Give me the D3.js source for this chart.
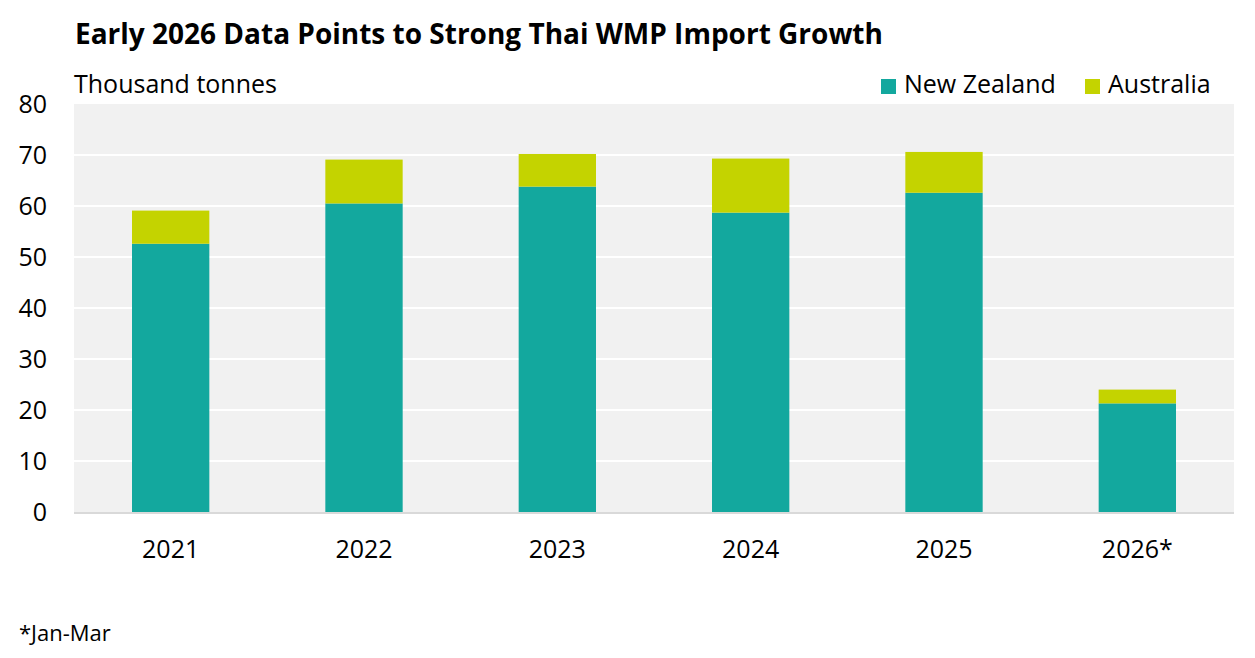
<!DOCTYPE html>
<html>
<head>
<meta charset="utf-8">
<script src="https://cdn.jsdelivr.net/npm/d3@7"></script>
<style>
  body { margin: 0; background: #fff; }
  svg { font-family: "Open Sans", sans-serif; }
</style>
</head>
<body>
<div id="chart"></div>
<script>
// Data (thousand tonnes)
const years = ["2021", "2022", "2023", "2024", "2025", "2026*"];
const newZealand = [52.6, 60.5, 63.8, 58.7, 62.6, 21.3];
const australia = [6.5, 8.6, 6.4, 10.6, 8.0, 2.7];
const seriesNames = ["New Zealand", "Australia"];
const colors = ["#13a89e", "#c4d300"];
const yTicks = [0, 10, 20, 30, 40, 50, 60, 70, 80];

const width = 1255, height = 658;
const margin = { top: 104, right: 21, bottom: 146, left: 74 };

const svg = d3.select("#chart").append("svg")
    .attr("width", width)
    .attr("height", height);

// Title
svg.append("text")
    .attr("x", 75).attr("y", 44)
    .attr("font-size", 28).attr("font-weight", 700)
    .attr("fill", "#000")
    .text("Early 2026 Data Points to Strong Thai WMP Import Growth");

svg.append("text")
    .attr("x", 74).attr("y", 93)
    .attr("font-size", 25)
    .attr("fill", "#000")
    .text("Thousand tonnes");

const x = d3.scaleBand()
    .domain(years)
    .range([margin.left, width - margin.right])
    .paddingInner(0.6)
    .paddingOuter(0.3);

const y = d3.scaleLinear()
    .domain([0, 80])
    .range([height - margin.bottom, margin.top]);

// Plot background
svg.append("rect")
    .attr("x", margin.left).attr("y", y(80))
    .attr("width", width - margin.right - margin.left)
    .attr("height", y(0) - y(80))
    .attr("fill", "#f1f1f1");

// Gridlines
svg.append("g")
    .selectAll("line")
    .data(yTicks.filter(d => d > 0 && d < 80))
    .join("line")
    .attr("x1", margin.left).attr("x2", width - margin.right)
    .attr("y1", d => y(d)).attr("y2", d => y(d))
    .attr("stroke", "#fff").attr("stroke-width", 2);

// Stacked bars
const rows = years.map((yr, i) => ({ year: yr, "New Zealand": newZealand[i], "Australia": australia[i] }));
const stacked = d3.stack().keys(seriesNames)(rows);

svg.append("g")
    .selectAll("g")
    .data(stacked)
    .join("g")
    .attr("fill", (d, i) => colors[i])
    .selectAll("rect")
    .data(d => d)
    .join("rect")
    .attr("x", d => x(d.data.year))
    .attr("width", x.bandwidth())
    .attr("y", d => y(d[1]))
    .attr("height", d => y(d[0]) - y(d[1]));

// Baseline
svg.append("line")
    .attr("x1", margin.left).attr("x2", width - margin.right)
    .attr("y1", y(0) + 1).attr("y2", y(0) + 1)
    .attr("stroke", "#d9d9d9").attr("stroke-width", 2);

// Y axis labels
const yAxis = svg.append("g")
    .attr("transform", `translate(${margin.left - 27},0)`)
    .call(d3.axisLeft(y).tickValues(yTicks).tickSize(0).tickPadding(0));
yAxis.select(".domain").remove();
yAxis.selectAll("text")
    .attr("font-size", 25)
    .attr("font-family", "Open Sans, sans-serif")
    .attr("fill", "#000");

// X axis labels
const xAxis = svg.append("g")
    .attr("transform", `translate(0,${y(0) + 28})`)
    .call(d3.axisBottom(x).tickSize(0).tickPadding(0));
xAxis.select(".domain").remove();
xAxis.selectAll("text")
    .attr("font-size", 25)
    .attr("font-family", "Open Sans, sans-serif")
    .attr("fill", "#000");

// Legend
const legend = svg.append("g");
const legendX = [881, 1085];
seriesNames.forEach((name, i) => {
    legend.append("rect")
        .attr("x", legendX[i]).attr("y", 79)
        .attr("width", 15).attr("height", 15)
        .attr("fill", colors[i]);
    legend.append("text")
        .attr("x", legendX[i] + 23).attr("y", 93)
        .attr("font-size", 25)
        .attr("fill", "#000")
        .text(name);
});

// Footnote
svg.append("text")
    .attr("x", 19).attr("y", 641)
    .attr("font-size", 22)
    .attr("fill", "#000")
    .text("*Jan-Mar");
</script>
</body>
</html>
